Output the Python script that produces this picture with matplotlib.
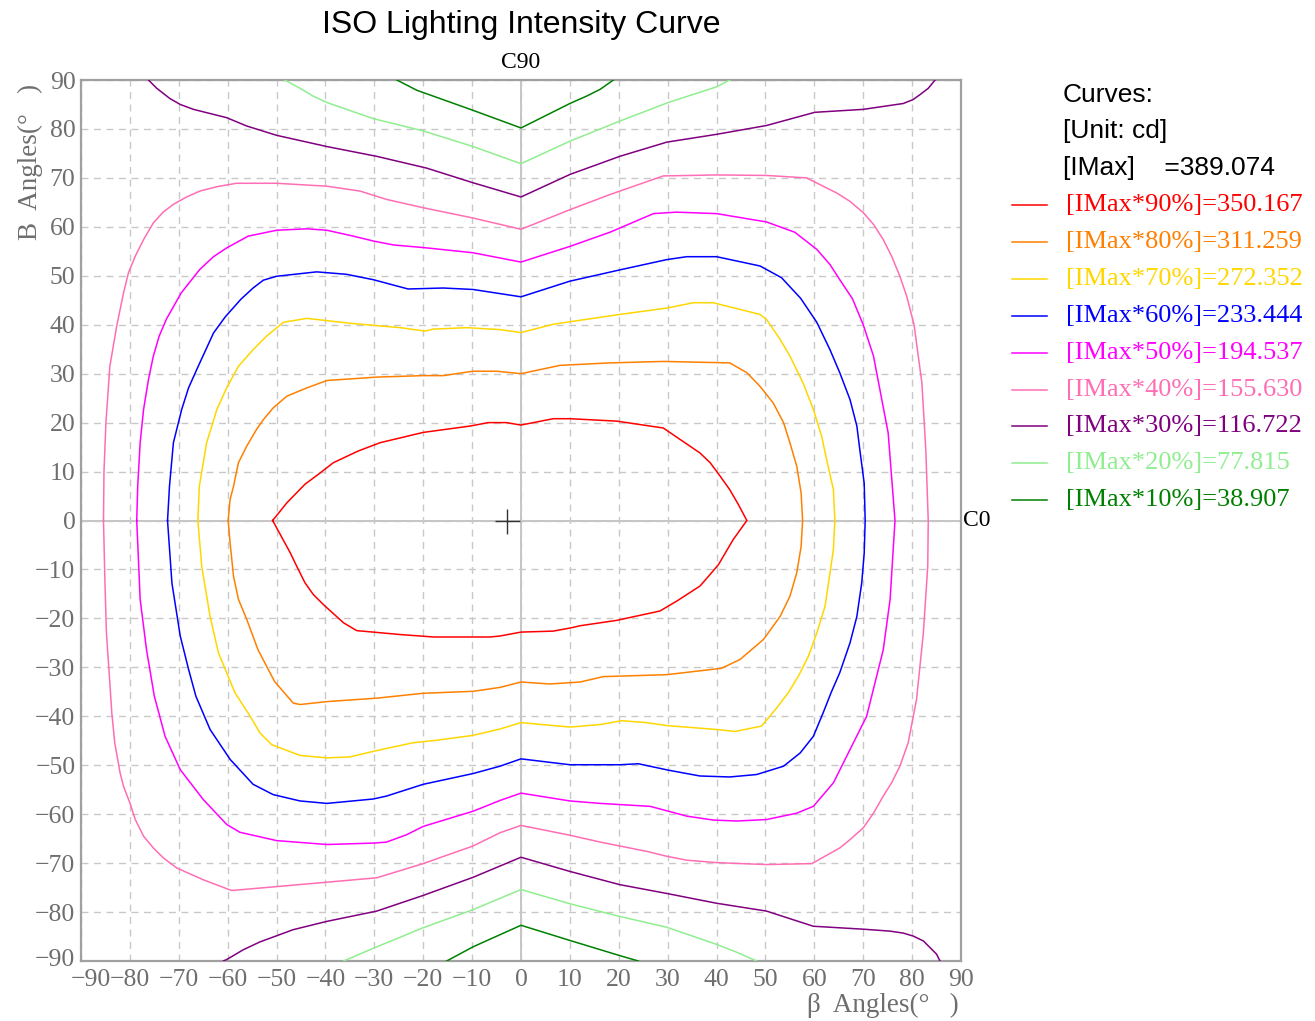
#!/usr/bin/env python3
"""ISO lighting intensity curve (iso-candela contours over C/gamma angles)."""
import matplotlib
matplotlib.use('Agg')
import matplotlib.pyplot as plt
from matplotlib.transforms import ScaledTranslation

# ── Data ─────────────────────────────────────────────────────────────────────
IMAX = 389.074
LEVELS = [90, 80, 70, 60, 50, 40, 30, 20, 10]
LEVEL_VALUES = ["350.167", "311.259", "272.352", "233.444", "194.537",
                "155.630", "116.722", "77.815", "38.907"]
COLORS = ["#ff0000", "#ff8000", "#ffd700", "#0000ff", "#ff00ff",
          "#ff6eb4", "#800080", "#90ee90", "#008000"]
TICKS = list(range(-90, 91, 10))

# closed curves: β angle (x) / B angle (y)
x90 = [-50.8, -47.9, -44.2, -41.1, -38.4, -33.3, -28.8, -20.0, -10.4, -6.7, -3.0, 0.0, 6.6,
       10.0, 19.6, 29.1, 36.6, 38.7, 40.7, 42.7, 44.5, 46.2, 43.4, 40.4, 38.7, 36.6, 31.8,
       28.4, 19.6, 12.1, 10.4, 6.6, 0.0, -4.3, -6.3, -17.9, -24.7, -33.6, -36.3, -40.4,
       -42.5, -44.2, -45.9, -47.2, -50.8]
y90 = [0.0, 3.6, 7.4, 9.7, 11.8, 14.2, 15.9, 18.0, 19.3, 20.0, 20.0, 19.5, 20.8,
       20.8, 20.3, 18.9, 13.8, 11.8, 9.1, 6.3, 3.2, 0.0, -3.9, -9.0, -11.0, -13.4, -16.5,
       -18.5, -20.4, -21.5, -21.9, -22.6, -22.8, -23.6, -23.8, -23.8, -23.3, -22.5, -20.9, -17.2,
       -15.1, -12.7, -9.3, -6.6, 0.0]

x80 = [-59.9, -59.5, -58.8, -57.8, -56.1, -54.1, -52.7, -50.7, -47.9, -43.8, -39.7, -29.5,
       -20.0, -15.9, -9.8, -5.0, 0.0, 8.0, 18.2, 29.1, 42.7, 46.2, 48.9, 51.6, 53.7, 55.0,
       56.4, 57.3, 57.6, 57.3, 56.4, 55.0, 53.0, 49.6, 44.8, 41.0, 29.8, 16.8, 12.1, 5.9,
       0.0, -4.3, -9.8, -20.0, -29.5, -39.7, -45.2, -46.6, -47.2, -50.4, -53.8, -56.1,
       -57.8, -58.8, -59.5, -59.9]
y80 = [0.0, 4.3, 7.0, 11.8, 15.2, 18.6, 20.6, 23.0, 25.4, 27.1, 28.6, 29.3,
       29.6, 29.6, 30.5, 30.5, 30.0, 31.7, 32.2, 32.5, 32.2, 30.2, 27.4, 24.0, 20.0, 15.9,
       11.1, 5.6, 0.0, -5.3, -10.7, -15.5, -19.6, -24.3, -28.4, -30.2, -31.5, -31.9, -33.0, -33.4,
       -33.0, -34.1, -34.9, -35.3, -36.3, -37.0, -37.6, -37.3, -36.6, -32.9, -26.4, -20.2,
       -16.1, -11.4, -4.6, 0.0]

x70 = [-66.1, -65.8, -64.3, -62.2, -60.2, -57.8, -54.8, -52.0, -48.6, -43.8, -35.0, -24.7,
       -19.6, -18.0, -11.1, -4.3, 0.0, 6.6, 20.2, 29.8, 35.3, 39.3, 48.9, 50.2, 53.0, 55.0,
       57.7, 59.8, 61.5, 62.5, 63.9, 64.2, 63.9, 63.2, 62.2, 60.5, 58.8, 56.9, 54.8, 52.3,
       49.2, 43.8, 40.0, 29.8, 25.7, 20.6, 16.2, 10.0, 0.0, -4.3, -9.8, -17.3,
       -22.0, -29.5, -35.0, -39.7, -45.2, -51.0, -53.4, -55.4, -58.5, -61.9, -63.6, -65.3,
       -66.1]
y70 = [0.0, 7.0, 15.9, 22.7, 27.1, 31.5, 34.9, 37.7, 40.5, 41.3, 40.3, 39.4,
       38.7, 39.1, 39.4, 39.0, 38.4, 40.1, 42.1, 43.4, 44.5, 44.5, 42.1, 41.1, 37.0, 33.6,
       28.1, 22.7, 17.2, 12.5, 6.3, 0.0, -5.9, -10.7, -17.5, -23.0, -27.7, -31.5, -35.0, -38.3,
       -42.0, -43.1, -42.7, -41.9, -41.3, -40.9, -41.7, -42.2, -41.3, -42.6, -43.9, -44.9,
       -45.4, -47.0, -48.3, -48.5, -48.0, -45.8, -43.4, -40.0, -35.2, -27.0, -19.6, -9.4,
       0.0]

x60 = [-72.3, -71.9, -71.1, -69.4, -68.0, -66.3, -62.9, -60.5, -57.3, -54.8, -52.7, -50.0,
       -41.8, -35.7, -30.2, -23.1, -15.9, -9.8, 0.0, 10.0, 20.2, 29.8, 33.9, 40.0, 48.9,
       53.3, 57.2, 60.5, 63.2, 65.2, 67.3, 68.7, 69.3, 70.2, 70.4, 70.2, 69.7, 68.7, 67.3,
       65.2, 63.5, 61.8, 59.8, 57.1, 53.7, 48.2, 42.7, 36.6, 30.1, 24.0, 20.2, 10.0, 0.0,
       -4.3, -9.8, -20.0, -27.5, -30.2, -39.7, -45.2, -50.7, -54.8, -59.5, -63.6, -66.5,
       -68.0, -69.7, -71.4, -72.3]
y60 = [0.0, 7.0, 15.9, 22.7, 27.1, 30.9, 38.3, 41.6, 45.2, 47.5, 49.1, 49.9,
       50.8, 50.3, 49.2, 47.3, 47.5, 47.2, 45.7, 48.9, 51.2, 53.3, 53.9, 53.9, 52.0,
       49.6, 45.4, 40.5, 34.9, 30.2, 24.7, 19.3, 14.5, 7.6, 0.0, -6.7, -12.7, -19.6, -25.0,
       -31.1, -35.0, -39.3, -44.1, -47.5, -50.2, -51.9, -52.4, -52.2, -51.0, -49.7, -49.9, -49.9, -48.7,
       -50.2, -51.7, -53.9, -56.3, -56.9, -57.8, -57.3, -56.0, -53.9, -48.8, -42.7, -35.9,
       -30.4, -23.6, -12.8, 0.0]

x50 = [-78.6, -78.4, -77.9, -77.2, -76.2, -75.2, -74.0, -72.5, -69.5, -65.7, -62.9,
       -60.2, -55.8, -50.0, -43.8, -39.7, -34.3, -30.2, -26.1, -19.3, -9.8, 0.0, 10.0,
       18.2, 27.1, 31.8, 40.0, 50.2, 56.0, 60.5, 63.2, 65.2, 67.8, 70.0, 72.1, 75.1, 76.5,
       75.5, 74.1, 70.7, 63.9, 59.8, 56.4, 50.2, 44.1, 39.3, 33.9, 26.4, 16.2, 10.0, 0.0,
       -4.3, -9.8, -20.0, -23.4, -27.5, -29.9, -39.7, -50.0, -57.5, -60.2, -65.0, -69.7,
       -72.8, -75.0, -76.6, -77.9, -78.6]
y50 = [0.0, 7.0, 15.9, 22.7, 28.8, 33.6, 37.7, 41.2, 46.5, 51.3, 53.9,
       55.7, 58.1, 59.3, 59.6, 59.3, 58.1, 57.1, 56.3, 55.7, 54.7, 52.8, 56.0,
       58.9, 62.7, 63.0, 62.7, 61.0, 58.9, 55.4, 52.3, 49.2, 45.3, 40.0, 33.6, 17.9, 0.0,
       -16.1, -26.4, -40.0, -53.6, -58.4, -59.8, -61.1, -61.4, -61.2, -60.4, -58.4, -57.8, -57.3, -55.7,
       -57.2, -59.4, -62.5, -64.2, -65.7, -65.9, -66.2, -65.4, -63.7, -62.1, -57.0, -50.9,
       -44.1, -35.9, -26.4, -16.1, 0.0]

x40 = [-85.4, -85.3, -84.9, -84.1, -82.7, -81.3, -80.3, -78.9, -77.2, -75.2, -73.2, -71.1,
       -68.4, -65.7, -62.2, -58.2, -50.0, -39.7, -32.9, -27.5, -20.0, -9.8, 0.0, 10.0,
       18.2, 29.1, 40.0, 50.2, 58.4, 64.6, 67.3, 70.0, 72.1, 74.1, 75.8, 77.5, 78.9, 80.4,
       82.0, 82.8, 83.3, 83.2, 82.3, 80.9, 79.2, 77.5, 75.8, 74.1, 72.1, 70.0, 67.3, 65.2,
       59.5, 50.2, 40.0, 33.9, 29.8, 25.7, 16.2, 10.0, 0.0, -4.3, -9.8, -20.0, -29.5,
       -39.7, -50.0, -59.2, -65.0, -70.4, -73.2, -75.2, -77.2, -78.9, -80.0, -81.3, -82.0,
       -83.1, -83.7, -84.1, -84.8, -85.1, -85.4]
y40 = [0.0, 10.0, 20.0, 31.5, 39.7, 46.5, 50.6, 54.0, 57.4, 60.8, 63.0, 64.6,
       66.1, 67.3, 68.2, 68.9, 68.9, 68.3, 67.3, 65.6, 63.9, 61.8, 59.5, 63.5,
       66.6, 70.4, 70.6, 70.5, 70.0, 66.9, 65.2, 62.9, 60.5, 57.4, 54.0, 49.9, 45.8, 40.0,
       28.1, 14.5, 0.0, -9.3, -23.0, -36.6, -45.4, -50.2, -53.6, -56.3, -59.8, -62.8, -65.2, -66.9,
       -70.1, -70.3, -69.9, -69.4, -68.6, -67.6, -65.7, -64.3, -62.3, -63.8, -66.5, -70.1, -73.0,
       -73.9, -74.8, -75.6, -73.4, -71.0, -68.9, -66.9, -64.5, -61.1, -57.7, -54.3, -51.6,
       -45.4, -39.3, -33.2, -23.0, -12.7, 0.0]

# open curves (top branch / bottom branch)
x30_top = [-76.2, -74.5, -71.8, -69.7, -67.0, -60.2, -56.1, -50.0, -39.7, -29.5, -19.3, -9.8,
           0.0, 10.0, 20.2, 29.8, 40.0, 50.2, 60.1, 70.0, 78.2, 80.2, 81.6, 83.3, 84.7]
y30_top = [90.0, 88.3, 86.2, 85.0, 84.0, 82.3, 80.6, 78.7, 76.4, 74.4, 72.0, 69.0,
           66.1, 70.7, 74.4, 77.3, 78.9, 80.7, 83.4, 84.0, 85.2, 86.0, 87.0, 88.3, 90.0]
x30_bot = [-60.9, -60.2, -56.8, -53.4, -46.6, -39.7, -29.5, -20.0, -9.8, 0.0, 10.0, 20.2,
           29.8, 40.0, 50.2, 59.8, 70.0, 75.5, 78.2, 80.2, 82.3, 83.7, 85.0, 85.7]
y30_bot = [-90.0, -89.7, -87.7, -86.1, -83.6, -81.9, -79.8, -76.6, -72.9, -68.8, -71.7, -74.4,
           -76.2, -78.2, -79.8, -82.9, -83.5, -83.9, -84.3, -84.9, -85.9, -87.3, -88.6, -90.0]

x20_top = [-48.3, -45.2, -42.5, -39.7, -30.2, -20.0, -9.8, 0.0, 10.0, 20.2, 30.1, 40.0, 42.7]
y20_top = [90.0, 88.3, 86.7, 85.4, 82.1, 79.6, 76.4, 72.9, 77.5, 81.6, 85.4, 88.6, 90.0]
x20_bot = [-36.3, -30.2, -20.0, -9.8, 0.0, 10.0, 20.2, 29.8, 40.0, 44.1, 48.2]
y20_bot = [-90.0, -87.4, -83.2, -79.5, -75.4, -78.3, -80.9, -83.1, -86.6, -88.2, -90.0]

x10_top = [-25.4, -21.3, -9.8, 0.0, 10.0, 13.4, 16.2, 18.9]
y10_top = [90.0, 87.9, 83.8, 80.2, 85.2, 86.7, 88.1, 90.0]
x10_bot = [-15.2, -9.8, 0.0, 10.0, 20.2, 24.0]
y10_bot = [-90.0, -87.1, -82.7, -85.8, -88.9, -90.0]

CURVES = [
    [(x90, y90)],
    [(x80, y80)],
    [(x70, y70)],
    [(x60, y60)],
    [(x50, y50)],
    [(x40, y40)],
    [(x30_top, y30_top), (x30_bot, y30_bot)],
    [(x20_top, y20_top), (x20_bot, y20_bot)],
    [(x10_top, y10_top), (x10_bot, y10_bot)],
]

CENTER = (-2.9, 0.0)

# ── Figure ───────────────────────────────────────────────────────────────────
SERIF = ['Liberation Serif', 'DejaVu Serif']
SANS = ['Liberation Sans', 'DejaVu Sans']
GRAY = "#6e6e6e"

W, H = 1315, 1021
fx = lambda px: px / W
fy = lambda py: 1 - py / H

fig = plt.figure(figsize=(W / 100, H / 100), dpi=100)
ax = fig.add_axes([fx(81), fy(961), 880 / W, 881 / H])

ax.set_xlim(-90, 90)
ax.set_ylim(-90, 90)
ax.set_xticks(TICKS)
ax.set_yticks(TICKS)
tick_text = [f"\u2212{abs(t)}" if t < 0 else str(t) for t in TICKS]
ax.set_xticklabels(tick_text, family=SERIF, fontsize=18.5, color=GRAY)
ax.set_yticklabels(tick_text, family=SERIF, fontsize=18.5, color=GRAY)
ax.tick_params(axis='x', length=0, pad=6)
ax.tick_params(axis='y', length=0, pad=4)
# the corner labels are nudged apart in the original
xl0 = ax.get_xticklabels()[0]
xl0.set_transform(xl0.get_transform() + ScaledTranslation(0.10, 0, fig.dpi_scale_trans))
yl0 = ax.get_yticklabels()[0]
yl0.set_transform(yl0.get_transform() + ScaledTranslation(0, 0.04, fig.dpi_scale_trans))

ax.grid(True, linestyle=(0, (5, 4)), color="#c8c8c8", linewidth=1.0)
ax.axhline(0, color="#c0c0c0", lw=1.3, zorder=1)
ax.axvline(0, color="#c0c0c0", lw=1.3, zorder=1)
for s in ax.spines.values():
    s.set_color("#a0a0a0")
    s.set_linewidth(1.6)

for curves, col in zip(CURVES, COLORS):
    for xs, ys in curves:
        ax.plot(xs, ys, color=col, lw=1.1, zorder=3)

ax.plot(*CENTER, marker='+', markersize=18, markeredgewidth=1.0,
        color="#333333", zorder=4)

fig.text(fx(521), fy(25), "ISO Lighting Intensity Curve", family=SANS, fontsize=23,
         ha='center', va='center')
ax.text(0, 91.5, "C90", family=SERIF, fontsize=17, ha='center', va='bottom')
ax.text(90.5, 0, "C0", family=SERIF, fontsize=17, ha='left', va='center')
fig.text(fx(959), fy(1005), "β  Angles(°   )", family=SERIF, fontsize=19.5, color=GRAY,
         ha='right', va='center')
fig.text(fx(30), fy(84), "B  Angles(°   )", family=SERIF, fontsize=19.5, color=GRAY,
         ha='center', va='top', rotation=90)

# ── Right-hand legend ────────────────────────────────────────────────────────
fig.text(fx(1063), fy(95), "Curves:", family=SANS, fontsize=19, va='center')
fig.text(fx(1063), fy(131), "[Unit: cd]", family=SANS, fontsize=19, va='center')
fig.text(fx(1063), fy(168), f"[IMax]    ={IMAX:.3f}", family=SANS, fontsize=19, va='center')
for i, (lvl, val, col) in enumerate(zip(LEVELS, LEVEL_VALUES, COLORS)):
    py = 205 + i * 36.9
    fig.add_artist(plt.Line2D([fx(1012), fx(1047)], [fy(py), fy(py)], color=col, lw=1.1))
    fig.text(fx(1066), fy(py), f"[IMax*{lvl}%]={val}", family=SERIF, fontsize=19,
             color=col, va='center')

fig.savefig("out.png", dpi=100)
